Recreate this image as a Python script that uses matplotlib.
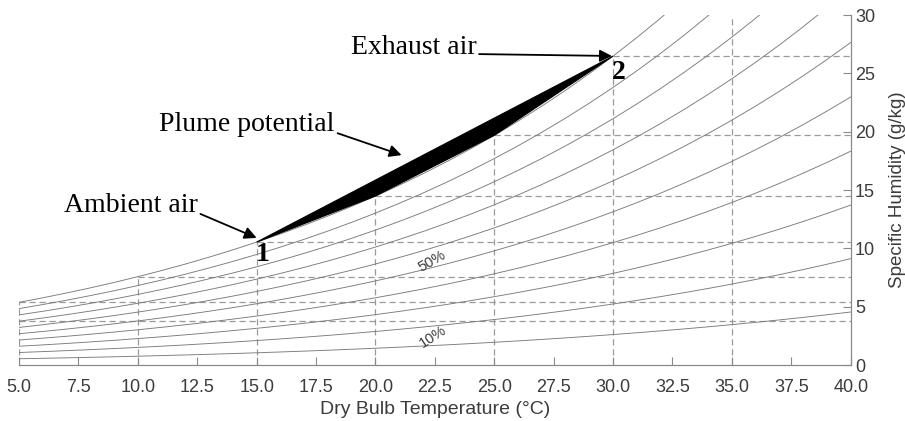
import numpy as np
import matplotlib.pyplot as plt

# Saturation vapour pressure of water (kPa), steam-table values
temp_c = list(range(0, 41))
p_sat_kpa = [0.6113, 0.6571, 0.7060, 0.7581, 0.8136, 0.8726, 0.9354, 1.0021, 1.0730, 1.1482,
             1.2282, 1.3130, 1.4028, 1.4981, 1.5990, 1.7058, 1.8188, 1.9384, 2.0647, 2.1983,
             2.3393, 2.4882, 2.6453, 2.8111, 2.9858, 3.1699, 3.3639, 3.5681, 3.7831, 4.0092,
             4.2470, 4.4969, 4.7596, 5.0354, 5.3251, 5.6290, 5.9479, 6.2823, 6.6328, 7.0002,
             7.3849]
p_atm = 101.325

rh_levels = [0.1, 0.2, 0.3, 0.4, 0.5, 0.6, 0.7, 0.8, 0.9, 1.0]
grid_temps = [0, 5, 10, 15, 20, 25, 30, 35]

ambient_t = 15
exhaust_t = 30
plume_temps = [15, 20, 25, 30]

xticks = [5.0, 7.5, 10.0, 12.5, 15.0, 17.5, 20.0, 22.5, 25.0, 27.5, 30.0, 32.5, 35.0, 37.5, 40.0]
yticks = [0, 5, 10, 15, 20, 25, 30]


def spec_hum(t, rh=1.0):
    # specific humidity in g/kg
    e = rh * np.interp(t, temp_c, p_sat_kpa)
    return 1000 * 0.622 * e / (p_atm - 0.378 * e)


fig = plt.figure(figsize=(9.05, 4.21), dpi=100)
ax = fig.add_axes([0.021, 0.133, 0.919, 0.831])

curve_col = '#7a7a7a'
dash_col = '#9a9a9a'
text_col = '#3c3c3c'

t = np.array(temp_c, dtype=float)
t = t[t >= 5]
for rh in rh_levels:
    ax.plot(t, spec_hum(t, rh), color=curve_col, lw=0.65, zorder=2)

# dashed guide lines at saturation points
for gt in grid_temps:
    qs = spec_hum(gt)
    if gt >= 5:
        ax.plot([gt, gt], [0, min(qs, 30)], color=dash_col, lw=0.9, ls=(0, (5, 3)), zorder=1)
    if qs < 30:
        ax.plot([max(gt, 5), 40], [qs, qs], color=dash_col, lw=0.9, ls=(0, (5, 3)), zorder=1)

# plume potential region
q1 = spec_hum(ambient_t)
q2 = spec_hum(exhaust_t)
poly_x = [ambient_t, exhaust_t] + plume_temps[::-1]
poly_y = [q1, q2] + [spec_hum(p) for p in plume_temps[::-1]]
ax.fill(poly_x, poly_y, color='black', lw=0.8, zorder=3)

serif = dict(family='Liberation Serif', size=20, color='black')
arrow = dict(arrowstyle='-|>', color='black', lw=1.3, mutation_scale=18, shrinkA=0, shrinkB=0)
ax.annotate('Ambient air', xy=(15.0, 10.9), xytext=(9.7, 13.7), ha='center', va='center',
            arrowprops=dict(arrow, relpos=(1.0, 0.2)), zorder=5, **serif)
ax.annotate('Plume potential', xy=(21.1, 18.0), xytext=(14.6, 20.6), ha='center', va='center',
            arrowprops=dict(arrow, relpos=(1.0, 0.2)), zorder=5, **serif)
ax.annotate('Exhaust air', xy=(29.95, 26.5), xytext=(21.6, 27.2), ha='center', va='center',
            arrowprops=dict(arrow, relpos=(1.0, 0.25)), zorder=5, **serif)
ax.text(15.27, 9.5, '1', ha='center', va='center', fontweight='bold', family='Liberation Serif',
        size=20, zorder=5)
ax.text(30.24, 25.1, '2', ha='center', va='center', fontweight='bold', family='Liberation Serif',
        size=20, zorder=5)

ax.text(22.4, 8.9, '50%', rotation=30, ha='center', va='center', fontsize=10.5,
        family='Liberation Sans', color=text_col, zorder=4)
ax.text(22.4, 2.4, '10%', rotation=33, ha='center', va='center', fontsize=10.5,
        family='Liberation Sans', color=text_col, zorder=4)

ax.set_xlim(5, 40)
ax.set_ylim(0, 30)
ax.set_xticks(xticks)
ax.set_xticklabels([f'{v:.1f}' for v in xticks])
ax.set_yticks(yticks)
ax.yaxis.tick_right()
ax.yaxis.set_label_position('right')
for s in ['top', 'left']:
    ax.spines[s].set_visible(False)
for s in ['bottom', 'right']:
    ax.spines[s].set_color('#8a8a8a')
    ax.spines[s].set_linewidth(0.9)
ax.tick_params(direction='in', length=6, width=0.8, color='#8a8a8a', labelcolor=text_col,
               labelsize=13)
ax.tick_params(axis='x', pad=10)
ax.tick_params(axis='y', pad=3)
for lbl in ax.get_xticklabels() + ax.get_yticklabels():
    lbl.set_family('Liberation Sans')
ax.set_xlabel('Dry Bulb Temperature (°C)', family='Liberation Sans', fontsize=14,
              color=text_col, labelpad=4)
ax.set_ylabel('Specific Humidity (g/kg)', family='Liberation Sans', fontsize=13.5,
              color=text_col, labelpad=10)

fig.savefig('out.png', dpi=100)
